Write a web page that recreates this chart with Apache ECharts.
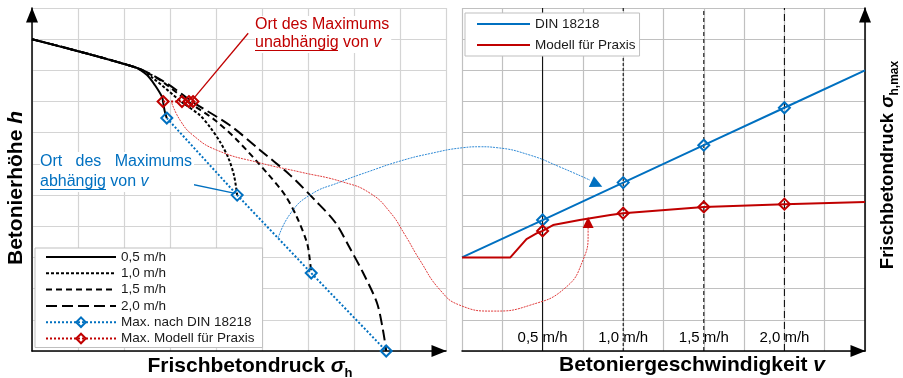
<!DOCTYPE html>
<html>
<head>
<meta charset="utf-8">
<title>Frischbetondruck</title>
<script src="https://cdn.jsdelivr.net/npm/echarts@6/dist/echarts.min.js"></script>
<style>
  html, body { margin: 0; padding: 0; background: #fff; }
  #chart { width: 903px; height: 378px; }
</style>
</head>
<body>
<div id="chart"></div>
<script>
// left panel, values in grid units (x = pressure, y = height)
var curveNames = ['0,5 m/h', '1,0 m/h', '1,5 m/h', '2,0 m/h'];
var curve05 = [[0, 10], [2.24, 9.10], [2.5, 8.85], [2.67, 8.53], [2.83, 8.14], [2.85, 7.98], [2.89, 7.66], [2.93, 7.47]];
var curve10 = [[0, 10], [2.24, 9.10], [2.63, 8.75], [3.26, 7.98], [3.65, 7.56], [3.87, 7.18], [4.09, 6.70], [4.26, 6.22], [4.39, 5.64], [4.46, 5.0]];
var curve15 = [[0, 10], [2.24, 9.10], [2.78, 8.69], [3.41, 7.98], [3.98, 7.40], [4.46, 6.76], [5.11, 5.71], [5.5, 5.0], [5.76, 4.29], [5.98, 3.46], [6.04, 2.92], [6.07, 2.5]];
var curve20 = [[0, 10], [2.24, 9.10], [2.89, 8.62], [3.5, 7.98], [4.30, 7.24], [4.96, 6.44], [5.61, 5.64], [6.15, 4.84], [6.59, 4.13], [6.91, 3.30], [7.2, 2.5], [7.5, 1.54], [7.63, 0.67], [7.7, 0]];
var dinMaxLeft = [[2.93, 7.47], [4.46, 5.0], [6.07, 2.5], [7.7, 0]];
var modMaxLeft = [[2.85, 8.0], [3.26, 8.0], [3.41, 8.0], [3.5, 8.0]];

// right panel, v in m/h, sigma in grid units
var speedTicks = [0.5, 1.0, 1.5, 2.0];
var speedLabels = ['0,5 m/h', '1,0 m/h', '1,5 m/h', '2,0 m/h'];
var dinV = [0, 0.5, 1.0, 1.5, 2.0, 2.5];
var dinSigma = [3.0, 4.2, 5.4, 6.6, 7.8, 9.0];
var modV = [0, 0.3, 0.4, 0.465, 0.5, 0.565, 0.73, 0.92, 1.0, 1.5, 2.0, 2.5];
var modSigma = [3.0, 3.0, 3.59, 3.78, 3.85, 4.04, 4.2, 4.36, 4.42, 4.62, 4.71, 4.78];

// connectors across both panels (overlay grid, left-panel units)
var blueConn = [[5.35, 3.62], [5.61, 4.39], [6.04, 5.0], [6.70, 5.42], [7.35, 5.77], [8.0, 6.09], [8.65, 6.33], [9.37, 6.52], [9.74, 6.55], [10.11, 6.52], [10.83, 6.28], [11.48, 5.90], [12.13, 5.48]];
var redConn = [[3.04, 7.95], [3.22, 7.40], [3.5, 6.92], [4.02, 6.44], [4.96, 6.03], [5.83, 5.74], [6.76, 5.42], [7.35, 5.06], [7.78, 4.46], [8.11, 3.72], [8.43, 2.92], [8.87, 1.96], [9.30, 1.47], [10.02, 1.28], [10.83, 1.47], [11.59, 2.02], [11.98, 2.92], [12.09, 3.78], [12.09, 4.0]];
var blueArrow = [12.28, 5.35];
var redArrow = [12.09, 4.12];
var redLeader = [[4.70, 10.19], [3.48, 8.04]];
var blueLeader = [[2.85, 5.54], [4.39, 5.06]];

var blue = '#0070C0';
var red = '#C00000';
var font = 'Liberation Sans';
var dashTypes = ['solid', [3, 2], [6, 4], [11, 5]];
var vlineTypes = ['solid', [3, 2], [4, 3], [7, 4]];

function pairs(xs, ys) {
  return xs.map(function (x, i) { return [x, ys[i]]; });
}
function pick(xs, ys) {
  var out = [];
  xs.forEach(function (x, i) { if (speedTicks.indexOf(x) >= 0) out.push([x, ys[i]]); });
  return out;
}

var chart = echarts.init(document.getElementById('chart'));

var axisLineStyle = { color: '#000', width: 1.5 };
var arrow = { symbol: ['none', 'triangle'], symbolSize: [12, 15], symbolOffset: [0, -7] };

var series = [];
[curve05, curve10, curve15, curve20].forEach(function (c, i) {
  series.push({
    name: curveNames[i], type: 'line', xAxisIndex: 0, yAxisIndex: 0,
    data: c, smooth: 0.3, symbol: 'none', z: 3,
    lineStyle: { color: '#000', width: 2, type: dashTypes[i] },
    itemStyle: { color: '#000' }
  });
});
series.push({
  name: 'Max. nach DIN 18218', type: 'line', xAxisIndex: 0, yAxisIndex: 0,
  data: dinMaxLeft, symbol: 'diamond', symbolSize: 11, z: 4,
  lineStyle: { color: blue, width: 2, type: 'dotted' },
  itemStyle: { color: 'rgba(0,0,0,0)', borderColor: blue, borderWidth: 2 }
});
series.push({
  name: 'Max. Modell für Praxis', type: 'line', xAxisIndex: 0, yAxisIndex: 0,
  data: modMaxLeft, symbol: 'diamond', symbolSize: 11, z: 4,
  lineStyle: { color: red, width: 2, type: 'dotted' },
  itemStyle: { color: 'rgba(0,0,0,0)', borderColor: red, borderWidth: 2 }
});

// right panel
speedTicks.forEach(function (v, i) {
  series.push({
    type: 'line', xAxisIndex: 1, yAxisIndex: 1, silent: true,
    data: [[v, 0], [v, 11]], symbol: 'none', z: 2,
    lineStyle: { color: '#000', width: 1, type: vlineTypes[i] }
  });
});
series.push({
  type: 'scatter', xAxisIndex: 1, yAxisIndex: 1, silent: true, z: 3,
  data: speedTicks.map(function (v, i) { return { value: [v, 0.42], name: speedLabels[i] }; }),
  symbolSize: 1, itemStyle: { color: 'rgba(0,0,0,0)', opacity: 1 },
  label: { show: true, position: 'inside', formatter: '{b}', fontFamily: font, fontSize: 15,
    color: '#000', opacity: 1, textBorderWidth: 0 }
});
series.push({
  name: 'DIN 18218', type: 'line', xAxisIndex: 1, yAxisIndex: 1,
  data: pairs(dinV, dinSigma), showSymbol: false, z: 4,
  lineStyle: { color: blue, width: 2 }, itemStyle: { color: blue }
});
series.push({
  name: 'Modell für Praxis', type: 'line', xAxisIndex: 1, yAxisIndex: 1,
  data: pairs(modV, modSigma), showSymbol: false, z: 4,
  lineStyle: { color: red, width: 2 }, itemStyle: { color: red }
});
series.push({
  type: 'scatter', xAxisIndex: 1, yAxisIndex: 1, z: 5, silent: true,
  data: pick(dinV, dinSigma), symbol: 'diamond', symbolSize: 11,
  itemStyle: { color: 'rgba(0,0,0,0)', borderColor: blue, borderWidth: 2, opacity: 1 }
});
series.push({
  type: 'scatter', xAxisIndex: 1, yAxisIndex: 1, z: 5, silent: true,
  data: pick(modV, modSigma), symbol: 'diamond', symbolSize: 11,
  itemStyle: { color: 'rgba(0,0,0,0)', borderColor: red, borderWidth: 2, opacity: 1 }
});

// overlay: connectors, arrows, leaders
series.push({
  type: 'line', xAxisIndex: 2, yAxisIndex: 2, silent: true, z: 6,
  data: blueConn, smooth: 0.5, symbol: 'none',
  lineStyle: { color: '#2f8ad6', width: 1, type: [2, 1] }
});
series.push({
  type: 'line', xAxisIndex: 2, yAxisIndex: 2, silent: true, z: 6,
  data: redConn, smooth: 0.5, symbol: 'none',
  lineStyle: { color: '#e03a3a', width: 1, type: [2, 1] }
});
series.push({
  type: 'scatter', xAxisIndex: 2, yAxisIndex: 2, silent: true, z: 7,
  data: [blueArrow], symbol: 'triangle', symbolSize: [12, 12], symbolRotate: -115,
  itemStyle: { color: blue, opacity: 1 }
});
series.push({
  type: 'scatter', xAxisIndex: 2, yAxisIndex: 2, silent: true, z: 7,
  data: [redArrow], symbol: 'triangle', symbolSize: [11, 11],
  itemStyle: { color: red, opacity: 1 }
});
series.push({
  type: 'line', xAxisIndex: 2, yAxisIndex: 2, silent: true, z: 7,
  data: redLeader, symbol: 'none', lineStyle: { color: red, width: 1.3 }
});
series.push({
  type: 'line', xAxisIndex: 2, yAxisIndex: 2, silent: true, z: 7,
  data: blueLeader, symbol: 'none', lineStyle: { color: blue, width: 1.3 }
});

function titleText(x, y, text, size, rot, subSize) {
  return {
    type: 'text', x: x, y: y, rotation: rot || 0, z: 10,
    style: {
      text: text, align: 'center', verticalAlign: 'middle',
      fontFamily: font, fontWeight: 'bold', fontSize: size, fill: '#000',
      rich: {
        t: { fontFamily: font, fontWeight: 'bold', fontSize: size, lineHeight: size + 6 },
        i: { fontFamily: font, fontWeight: 'bold', fontStyle: 'italic', fontSize: size, lineHeight: size + 6 },
        s: { fontFamily: font, fontWeight: 'bold', fontSize: subSize, lineHeight: subSize, verticalAlign: 'bottom' }
      }
    }
  };
}

var hideSymbol = { opacity: 0 };

var option = {
  animation: false,
  backgroundColor: '#fff',
  grid: [
    { left: 32, top: 8, width: 414, height: 343 },
    { left: 462, top: 8, width: 403, height: 343 },
    { left: 32, top: 8, width: 833, height: 343 }
  ],
  xAxis: [
    { gridIndex: 0, type: 'value', min: 0, max: 9, interval: 1,
      axisLine: Object.assign({ show: true, onZero: false, lineStyle: axisLineStyle }, arrow),
      axisTick: { show: false }, axisLabel: { show: false },
      splitLine: { show: true, lineStyle: { color: '#d4d4d4', width: 1.2 } } },
    { gridIndex: 1, type: 'value', min: 0, max: 2.5, interval: 0.25,
      axisLine: Object.assign({ show: true, onZero: false, lineStyle: axisLineStyle }, arrow),
      axisTick: { show: false }, axisLabel: { show: false },
      splitLine: { show: true, lineStyle: { color: '#c0c0c0', width: 1.2 } } },
    { gridIndex: 2, type: 'value', min: 0, max: 18.11, show: false }
  ],
  yAxis: [
    { gridIndex: 0, type: 'value', min: 0, max: 11, interval: 1,
      axisLine: Object.assign({ show: true, onZero: false, lineStyle: axisLineStyle }, arrow),
      axisTick: { show: false }, axisLabel: { show: false },
      splitLine: { show: true, lineStyle: { color: '#d4d4d4', width: 1.2 } } },
    { gridIndex: 1, type: 'value', position: 'right', min: 0, max: 11, interval: 1,
      axisLine: Object.assign({ show: true, onZero: false, lineStyle: axisLineStyle }, arrow),
      axisTick: { show: false }, axisLabel: { show: false },
      splitLine: { show: true, lineStyle: { color: '#c0c0c0', width: 1.2 } } },
    { gridIndex: 2, type: 'value', min: 0, max: 11, show: false }
  ],
  legend: [
    { data: curveNames.map(function (n) { return { name: n, itemStyle: hideSymbol }; })
        .concat(['Max. nach DIN 18218', 'Max. Modell für Praxis']),
      orient: 'vertical', left: 35, top: 248, selectedMode: false,
      itemWidth: 70, itemHeight: 12, itemGap: 2.3, padding: [2, 8, 2, 10],
      backgroundColor: '#fff', borderColor: '#bfbfbf', borderWidth: 1,
      textStyle: { fontFamily: font, fontSize: 13.5, lineHeight: 13, color: '#1a1a1a' } },
    { data: [{ name: 'DIN 18218', icon: 'rect' }, { name: 'Modell für Praxis', icon: 'rect' }],
      orient: 'vertical', left: 465, top: 13, selectedMode: false,
      itemWidth: 53, itemHeight: 2, itemGap: 7, padding: [4, 4, 4, 12],
      backgroundColor: '#fff', borderColor: '#bfbfbf', borderWidth: 1,
      textStyle: { fontFamily: font, fontSize: 13.5, lineHeight: 13, color: '#1a1a1a' } }
  ],
  graphic: [
    titleText(250, 366, '{t|Frischbetondruck }{i|σ}{s|h}', 21, 0, 13),
    titleText(692, 365, '{t|Betoniergeschwindigkeit }{i|v}', 21, 0, 13),
    titleText(16, 188, '{t|Betonierhöhe }{i|h}', 21, Math.PI / 2, 13),
    titleText(888, 165, '{t|Frischbetondruck }{i|σ}{s|h,max}', 18.5, Math.PI / 2, 12),
    { type: 'text', x: 255, y: 16, z: 9,
      style: { text: 'Ort des Maximums\nunabhängig von {i|v}', fontFamily: font, fontSize: 16, lineHeight: 18,
        fill: red, backgroundColor: '#fff', padding: [0, 2, 1, 0],
        rich: { i: { fontFamily: font, fontSize: 16, fontStyle: 'italic', lineHeight: 18, fill: red } } } },
    { type: 'line', z: 10, shape: { x1: 255, y1: 50.5, x2: 338, y2: 50.5 }, style: { stroke: red, lineWidth: 1.2 } },
    { type: 'text', x: 40, y: 152, z: 9,
      style: { text: 'Ort   des   Maximums\nabhängig von {i|v}', fontFamily: font, fontSize: 16, lineHeight: 20,
        fill: blue, backgroundColor: '#fff', padding: [0, 2, 0, 0],
        rich: { i: { fontFamily: font, fontSize: 16, fontStyle: 'italic', lineHeight: 20, fill: blue } } } },
    { type: 'line', z: 10, shape: { x1: 40, y1: 189.5, x2: 106, y2: 189.5 }, style: { stroke: blue, lineWidth: 1.2 } }
  ],
  series: series
};

chart.setOption(option);
</script>
</body>
</html>
